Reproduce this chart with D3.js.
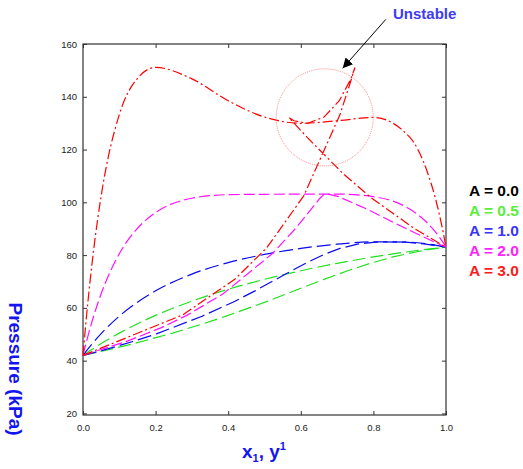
<!DOCTYPE html>
<html>
<head>
<meta charset="utf-8">
<script src="https://cdn.jsdelivr.net/npm/d3@7"></script>
<style>
  body { margin: 0; background: #fff; }
  svg { font-family: "Liberation Sans", Arial, sans-serif; }
</style>
</head>
<body>
<div id="container"></div>
<script>
/* DATA */
// liquid mole fraction x1 for each computed point
const xGrid = [0, 0.01, 0.02, 0.03, 0.05, 0.1, 0.15, 0.2, 0.3, 0.4, 0.5, 0.6, 0.7, 0.8, 0.9, 0.95, 0.97, 0.99, 1];

// pressure (kPa) and vapour fraction y1 at each x1, one pair per A
const pA05 = [42, 42.94, 43.85, 44.75, 46.47, 50.43, 53.97, 57.14, 62.56, 67.05, 70.82, 74.06, 76.87, 79.31, 81.37, 82.25, 82.57, 82.86, 83];
const yA05 = [0, 0.032, 0.061, 0.089, 0.140, 0.247, 0.331, 0.400, 0.509, 0.593, 0.664, 0.729, 0.791, 0.854, 0.923, 0.960, 0.976, 0.992, 1];

const pA10 = [42, 43.80, 45.51, 47.16, 50.23, 56.84, 62.15, 66.45, 72.81, 77.16, 80.25, 82.52, 84.14, 85.04, 84.89, 84.23, 83.81, 83.30, 83];
const yA10 = [0, 0.051, 0.095, 0.135, 0.204, 0.328, 0.413, 0.474, 0.558, 0.617, 0.664, 0.708, 0.756, 0.813, 0.889, 0.939, 0.962, 0.987, 1];

const pA20 = [42, 47.48, 52.52, 57.16, 65.33, 80.50, 90.15, 96.11, 101.55, 102.91, 103.04, 103.09, 103.13, 102.14, 97.43, 92.01, 88.92, 85.17, 83];
const yA20 = [0, 0.124, 0.216, 0.286, 0.386, 0.521, 0.586, 0.621, 0.653, 0.663, 0.664, 0.665, 0.675, 0.704, 0.782, 0.861, 0.907, 0.965, 1];

const pA30 = [42, 57.29, 70.82, 82.73, 102.41, 133.24, 146.97, 151.11, 146.80, 138.49, 132.32, 129.95, 130.91, 132.17, 124.69, 110.92, 101.92, 90.14, 83];
const yA30 = [0, 0.274, 0.418, 0.506, 0.608, 0.708, 0.740, 0.749, 0.738, 0.706, 0.664, 0.619, 0.581, 0.567, 0.617, 0.716, 0.792, 0.912, 1];

const legendLabels = ["A = 0.0", "A = 0.5", "A = 1.0", "A = 2.0", "A = 3.0"];
const xTicks = [0, 0.2, 0.4, 0.6, 0.8, 1.0];
const yTicks = [20, 40, 60, 80, 100, 120, 140, 160];

/* CONSTANTS */
const width = 523, height = 469;
const plot = { left: 83, right: 446, top: 44, bottom: 415 };

const series = [
  { p: pA05, y: yA05, color: "#1fdf1f", dash: "13,5" },
  { p: pA10, y: yA10, color: "#0a0aee", dash: "14,5" },
  { p: pA20, y: yA20, color: "#ff10ff", dash: "11,4" },
  { p: pA30, y: yA30, color: "#ff0000", dash: "10,3,2,3" }
];
const legendColors = ["#000000", "#5aee3a", "#3535ff", "#ff22ff", "#ff1a1a"];

/* SCALES */
const xScale = d3.scaleLinear().domain([0, 1]).range([plot.left, plot.right]);
const yScale = d3.scaleLinear().domain([19.4, 160]).range([plot.bottom, plot.top]);

const svg = d3.select("#container").append("svg")
  .attr("width", width)
  .attr("height", height);

/* AXES - ticks inside the frame on every side */
function styleAxis(g) {
  g.select(".domain").remove();
  g.selectAll(".tick line").attr("stroke", "#333").attr("stroke-width", 1);
  g.selectAll(".tick text").attr("fill", "#222").style("font-size", "9.5px");
}

svg.append("g")
  .attr("transform", `translate(0,${plot.bottom})`)
  .call(d3.axisBottom(xScale).tickValues(xTicks).tickFormat(d3.format(".1f"))
    .tickSizeInner(-4).tickSizeOuter(0).tickPadding(9))
  .call(styleAxis);

svg.append("g")
  .attr("transform", `translate(0,${plot.top})`)
  .call(d3.axisTop(xScale).tickValues(xTicks).tickFormat("")
    .tickSizeInner(-4).tickSizeOuter(0))
  .call(styleAxis);

svg.append("g")
  .attr("transform", `translate(${plot.left},0)`)
  .call(d3.axisLeft(yScale).tickValues(yTicks)
    .tickSizeInner(-4).tickSizeOuter(0).tickPadding(6))
  .call(styleAxis);

svg.append("g")
  .attr("transform", `translate(${plot.right},0)`)
  .call(d3.axisRight(yScale).tickValues(yTicks).tickFormat("")
    .tickSizeInner(-4).tickSizeOuter(0))
  .call(styleAxis);

// frame
svg.append("rect")
  .attr("x", plot.left).attr("y", plot.top)
  .attr("width", plot.right - plot.left).attr("height", plot.bottom - plot.top)
  .attr("fill", "none").attr("stroke", "#333").attr("stroke-width", 1.2);

/* CURVES */
const bubbleLine = d3.line()
  .x(d => xScale(d[0]))
  .y(d => yScale(d[1]))
  .curve(d3.curveMonotoneX);

const dewLine = d3.line()
  .x(d => xScale(d[0]))
  .y(d => yScale(d[1]));

series.forEach(s => {
  const bubble = xGrid.map((x, i) => [x, s.p[i]]);
  const dew = s.y.map((y, i) => [y, s.p[i]]);

  svg.append("path")
    .attr("d", bubbleLine(bubble))
    .attr("fill", "none")
    .attr("stroke", s.color)
    .attr("stroke-width", 1.2)
    .attr("stroke-dasharray", s.dash);

  svg.append("path")
    .attr("d", dewLine(dew))
    .attr("fill", "none")
    .attr("stroke", s.color)
    .attr("stroke-width", 1.2)
    .attr("stroke-dasharray", s.dash);
});

/* ANNOTATION */
svg.append("circle")
  .attr("cx", xScale(0.666))
  .attr("cy", yScale(132.2))
  .attr("r", 48.5)
  .attr("fill", "none")
  .attr("stroke", "#ff6a6a")
  .attr("stroke-width", 0.8)
  .attr("stroke-dasharray", "1,1");

const defs = svg.append("defs");
defs.append("marker")
  .attr("id", "arrow")
  .attr("viewBox", "0 0 10 10")
  .attr("refX", 10).attr("refY", 5)
  .attr("markerWidth", 10).attr("markerHeight", 10)
  .attr("markerUnits", "userSpaceOnUse")
  .attr("orient", "auto")
  .append("path")
  .attr("d", "M0,0 L10,5 L0,10 Z")
  .attr("fill", "#000");

svg.append("line")
  .attr("x1", 385.7).attr("y1", 19.5)
  .attr("x2", 342.7).attr("y2", 68.3)
  .attr("stroke", "#000")
  .attr("stroke-width", 1)
  .attr("marker-end", "url(#arrow)");

svg.append("text")
  .attr("x", 393).attr("y", 19.3)
  .attr("fill", "#3c3cf4")
  .style("font-size", "15px")
  .style("font-weight", "bold")
  .text("Unstable");

/* LEGEND */
svg.append("g")
  .selectAll("text")
  .data(legendLabels)
  .join("text")
  .attr("x", 469)
  .attr("y", (d, i) => 196 + i * 20)
  .attr("fill", (d, i) => legendColors[i])
  .style("font-size", "15.5px")
  .style("font-weight", "bold")
  .text(d => d);

/* AXIS TITLES */
const xLabel = svg.append("text")
  .attr("x", 242).attr("y", 458)
  .attr("fill", "#1414f0")
  .style("font-size", "19px")
  .style("font-weight", "bold");
xLabel.append("tspan").text("x");
xLabel.append("tspan").attr("dy", 4).style("font-size", "11px").text("1");
xLabel.append("tspan").attr("dy", -4).text(", y");
xLabel.append("tspan").attr("dy", -8).style("font-size", "11px").text("1");

svg.append("text")
  .attr("transform", "translate(15,369) rotate(90)")
  .attr("text-anchor", "middle")
  .attr("dominant-baseline", "central")
  .attr("fill", "#1414f0")
  .style("font-size", "19px")
  .style("font-weight", "bold")
  .text("Pressure (kPa)");
</script>
</body>
</html>
